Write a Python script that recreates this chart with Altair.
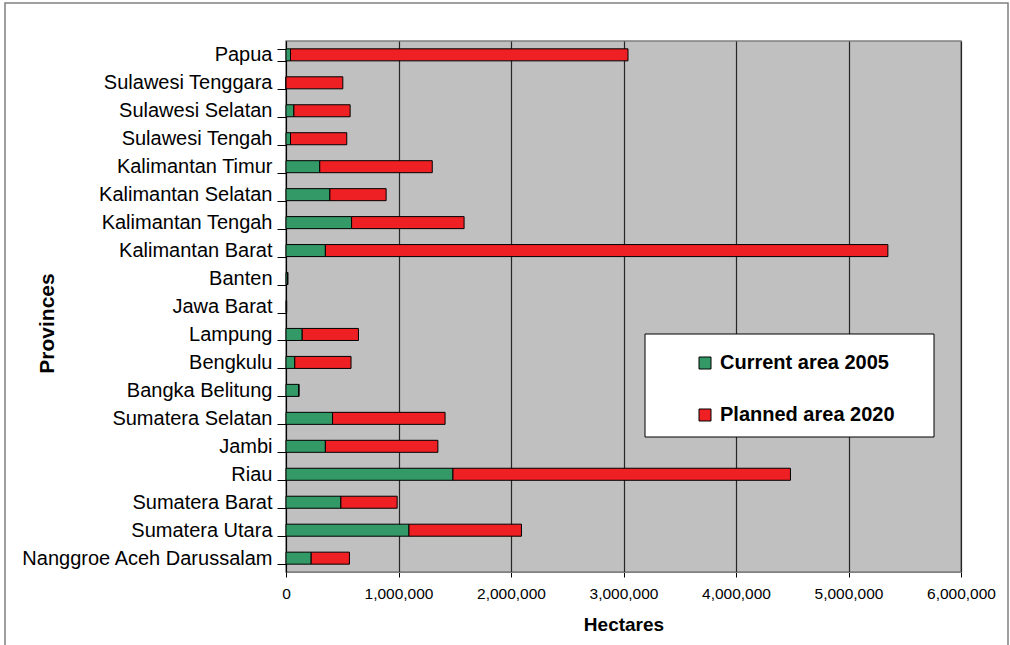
import altair as alt
import pandas as pd

provinces = [
    "Papua", "Sulawesi Tenggara", "Sulawesi Selatan", "Sulawesi Tengah",
    "Kalimantan Timur", "Kalimantan Selatan", "Kalimantan Tengah", "Kalimantan Barat",
    "Banten", "Jawa Barat", "Lampung", "Bengkulu", "Bangka Belitung",
    "Sumatera Selatan", "Jambi", "Riau", "Sumatera Barat", "Sumatera Utara",
    "Nanggroe Aceh Darussalam",
]
current_2005 = [40000, 0, 70000, 40000, 300000, 390000, 583000, 350000,
                15000, 5000, 144000, 78000, 114000, 414000, 350000, 1484000,
                488000, 1093000, 224000]
planned_2020 = [3000000, 505000, 500000, 500000, 1000000, 500000, 1000000, 5000000,
                0, 0, 500000, 500000, 0, 1000000, 1000000, 3000000,
                500000, 1000000, 340000]
series = ["Current area 2005", "Planned area 2020"]
colors = ["#339966", "#EE2024"]
x_ticks = [0, 1000000, 2000000, 3000000, 4000000, 5000000, 6000000]

rows = []
for p, c, pl in zip(provinces, current_2005, planned_2020):
    rows.append({"Province": p, "Series": series[0], "Value": c, "k": 0})
    rows.append({"Province": p, "Series": series[1], "Value": pl, "k": 1})
df = pd.DataFrame(rows)

FONT = "Liberation Sans"

frame = alt.Chart(pd.DataFrame({"a": [0]})).mark_rect(
    fillOpacity=0, stroke="#808080", strokeWidth=1.5
).encode(x=alt.value(-281), x2=alt.value(722), y=alt.value(-38), y2=alt.value(640))

bars = alt.Chart(df).mark_bar(stroke="black", strokeWidth=1).encode(
    y=alt.Y(
        "Province:N", sort=provinces,
        scale=alt.Scale(paddingInner=0.57, paddingOuter=0.28),
        axis=alt.Axis(
            title="Provinces", labelFont=FONT, labelFontSize=20, labelColor="black",
            labelLimit=0, labelPadding=5, tickBand="extent", tickSize=9, tickColor="black",
            domainColor="black", grid=False,
            titleFont=FONT, titleFontSize=21, titleFontWeight="bold", titleColor="black",
            titleAngle=270, titleX=-239, titleY=282, titleAlign="center",
            titleBaseline="middle",
        ),
    ),
    x=alt.X(
        "Value:Q", stack="zero",
        scale=alt.Scale(domain=[0, 6000000], nice=False),
        axis=alt.Axis(
            title="Hectares", values=x_ticks, format=",d",
            labelFont=FONT, labelFontSize=15.5, labelColor="black", labelPadding=9,
            labelFlush=False, labelOverlap=False, labelBound=False,
            tickSize=5, tickColor="black", domainColor="#808080",
            grid=True, gridColor="#262626", gridWidth=1.2,
            titleFont=FONT, titleFontSize=19, titleFontWeight="bold", titleColor="black",
            titlePadding=14,
        ),
    ),
    color=alt.Color(
        "Series:N",
        scale=alt.Scale(domain=series, range=colors),
        legend=alt.Legend(
            title=None, orient="none", legendX=409, legendY=312,
            symbolType="square", symbolSize=144, symbolStrokeColor="black",
            symbolStrokeWidth=1, symbolOpacity=1,
            labelFont=FONT, labelFontSize=20, labelFontWeight="bold", labelColor="black",
            labelLimit=0, labelOffset=5, rowPadding=32, padding=0,
        ),
    ),
    order=alt.Order("k:Q"),
)

box = alt.Chart(pd.DataFrame({"a": [0]})).mark_rect(
    fill="white", stroke="black", strokeWidth=1
).encode(x=alt.value(359), x2=alt.value(648), y=alt.value(293), y2=alt.value(396))

chart = alt.layer(frame, bars, box).properties(
    width=675, height=531,
    autosize=alt.AutoSizeParams(type="none"),
    padding={"left": 286, "top": 41, "right": 49, "bottom": 73},
    background="white",
).configure_view(
    fill="#C0C0C0", stroke="#808080", strokeWidth=1.5
)

chart.save("out.html", embed_options={"renderer": "svg", "actions": False})
